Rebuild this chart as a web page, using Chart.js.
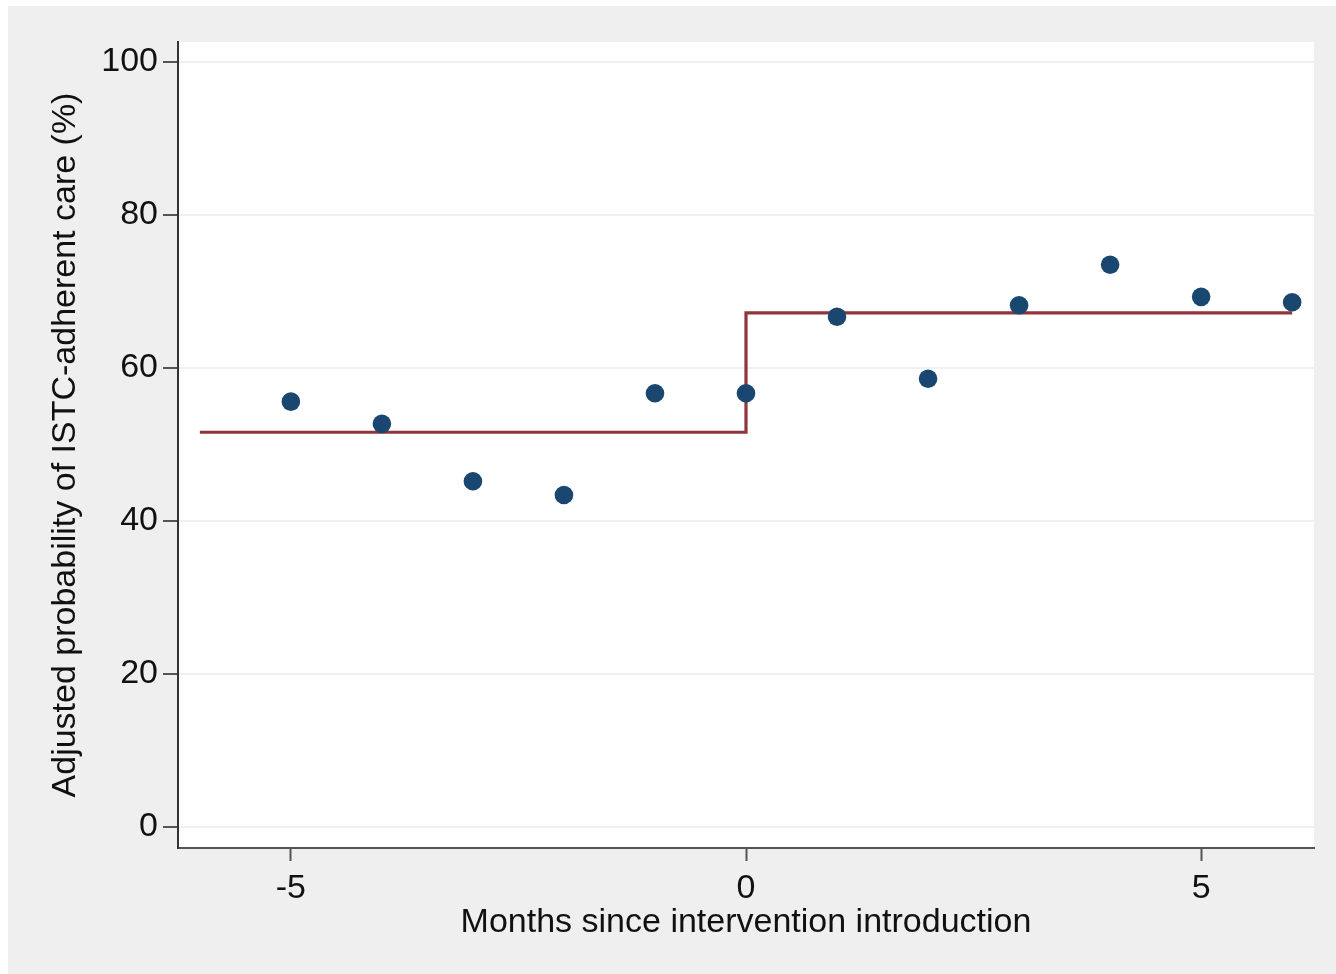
<!DOCTYPE html>
<html>
<head>
<meta charset="utf-8">
<script src="https://cdn.jsdelivr.net/npm/chart.js@4/dist/chart.umd.min.js"></script>
<style>
html,body{margin:0;padding:0;background:#ffffff;}
#wrap{width:1336px;height:974px;}
</style>
</head>
<body>
<div id="wrap"><canvas id="c" width="1336" height="974"></canvas></div>
<script>
// Data
const months = [-5, -4, -3, -2, -1, 0, 1, 2, 3, 4, 5, 6];
const adjustedProb = [55.6, 52.7, 45.2, 43.4, 56.7, 56.7, 66.7, 58.6, 68.2, 73.5, 69.3, 68.6];
const fitX = [-6, 0, 0, 6];
const fitY = [51.6, 51.6, 67.2, 67.2];
const xTicks = [-5, 0, 5];
const yTicks = [0, 20, 40, 60, 80, 100];

const pointData = months.map((m, i) => ({x: m, y: adjustedProb[i]}));
const fitData = fitX.map((m, i) => ({x: m, y: fitY[i]}));

const bgPlugin = {
  id: 'bg',
  beforeDraw(chart) {
    const ctx = chart.ctx;
    const a = chart.chartArea;
    ctx.save();
    ctx.fillStyle = '#ffffff';
    ctx.fillRect(0, 0, chart.width, chart.height);
    ctx.fillStyle = '#efefef';
    ctx.fillRect(8, 6, chart.width - 8, chart.height - 6);
    ctx.fillStyle = '#ffffff';
    ctx.fillRect(a.left, a.top, a.right - a.left, a.bottom - a.top);
    ctx.restore();
  }
};

const font = {family: '"Liberation Sans", Arial, sans-serif', size: 34};

new Chart(document.getElementById('c'), {
  type: 'scatter',
  data: {
    datasets: [
      {
        data: pointData,
        backgroundColor: '#1a476f',
        borderColor: '#1a476f',
        pointRadius: 9.3,
        pointBorderWidth: 0,
        order: 1
      },
      {
        data: fitData,
        showLine: true,
        borderColor: '#90353b',
        borderWidth: 3.2,
        pointRadius: 0,
        fill: false,
        order: 2
      }
    ]
  },
  options: {
    responsive: false,
    animation: false,
    devicePixelRatio: 1,
    layout: {padding: {left: 8, top: 42, right: 22, bottom: 0}},
    plugins: {legend: {display: false}, tooltip: {enabled: false}},
    scales: {
      x: {
        type: 'linear',
        min: -6.24,
        max: 6.24,
        afterBuildTicks(s) { s.ticks = xTicks.map(v => ({value: v})); },
        afterFit(s) { s.height = 126; },
        ticks: {color: '#111', font: font, padding: 7, maxRotation: 0,
                callback: v => String(v)},
        grid: {drawOnChartArea: false, drawTicks: true, tickLength: 13, tickColor: '#555', tickWidth: 2},
        border: {color: '#555', width: 2},
        title: {display: true, text: 'Months since intervention introduction', color: '#111',
                font: font, padding: {top: 0, bottom: 31}}
      },
      y: {
        type: 'linear',
        min: -2.75,
        max: 102.62,
        afterBuildTicks(s) { s.ticks = yTicks.map(v => ({value: v})); },
        afterFit(s) { s.width = 170; },
        ticks: {color: '#111', font: font, padding: 5, callback: v => String(v)},
        grid: {color: '#eaf2f3', lineWidth: 2, drawTicks: true, tickLength: 15, tickColor: '#555', tickWidth: 2},
        border: {color: '#333', width: 2},
        title: {display: true, text: 'Adjusted probability of ISTC-adherent care (%)', color: '#111',
                font: font, padding: {top: 37, bottom: 0}}
      }
    }
  },
  plugins: [bgPlugin]
});
</script>
</body>
</html>
